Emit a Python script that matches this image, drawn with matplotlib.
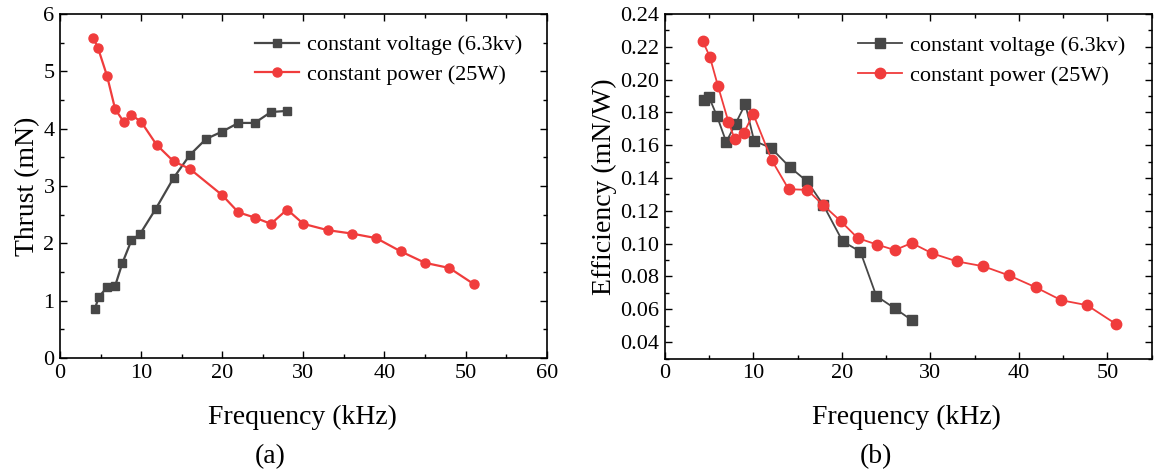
import matplotlib
matplotlib.use('Agg')
import matplotlib.pyplot as plt
from matplotlib.ticker import MultipleLocator

# thrust data (a)
freq_cv_a = [4.3, 4.8, 5.8, 6.8, 7.7, 8.8, 9.9, 11.8, 14, 16, 18, 20, 22, 24, 26, 28]
thrust_cv = [0.86, 1.07, 1.23, 1.26, 1.66, 2.05, 2.17, 2.60, 3.14, 3.54, 3.82, 3.95, 4.10, 4.10, 4.29, 4.31]
freq_cp_a = [4.1, 4.7, 5.8, 6.8, 7.9, 8.8, 10, 11.9, 14, 16, 20, 22, 24, 26, 28, 30, 33, 36, 39, 42, 45, 48, 51]
thrust_cp = [5.59, 5.40, 4.92, 4.34, 4.11, 4.24, 4.12, 3.72, 3.43, 3.30, 2.84, 2.54, 2.45, 2.34, 2.59,
             2.34, 2.23, 2.17, 2.09, 1.86, 1.66, 1.57, 1.29]

# efficiency data (b)
freq_cv_b = [4.4, 5.0, 5.9, 6.95, 8.0, 9.1, 10.1, 12, 14.1, 16.1, 17.9, 20.1, 22.1, 23.9, 26, 27.9]
eff_cv = [0.1877, 0.1894, 0.1778, 0.1620, 0.1731, 0.1851, 0.1626, 0.1584, 0.1468, 0.1379, 0.1237,
          0.1014, 0.0951, 0.0681, 0.0605, 0.0534]
freq_cp_b = [4.3, 5.1, 6.0, 7.2, 7.9, 8.9, 10, 12.1, 14, 16.1, 17.9, 19.9, 21.8, 24, 26, 27.9,
             30.2, 33, 36, 38.9, 41.9, 44.8, 47.7, 51]
eff_cp = [0.2234, 0.2139, 0.1964, 0.1742, 0.1638, 0.1672, 0.1790, 0.1508, 0.1332, 0.1328, 0.1235,
          0.1136, 0.1034, 0.0994, 0.0961, 0.1004, 0.0941, 0.0892, 0.0862, 0.0806, 0.0734, 0.0655,
          0.0625, 0.0509]

gray = '#474747'
red = '#f03c3c'

plt.rcParams['font.family'] = ['Liberation Serif', 'DejaVu Serif']

fig = plt.figure(figsize=(11.55, 4.72), dpi=100)
ax1 = fig.add_axes([60/1155, 1-358/472, (546.7-60)/1155, (358-14)/472])
ax2 = fig.add_axes([664.7/1155, 1-358.5/472, (1151.7-664.7)/1155, (358.5-14)/472])

ax1.plot(freq_cv_a, thrust_cv, 's-', color=gray, lw=1.6, ms=6, label='constant voltage (6.3kv)')
ax1.plot(freq_cp_a, thrust_cp, 'o-', color=red, lw=1.6, ms=6.5, label='constant power (25W)')
ax1.set_xlim(0, 60)
ax1.set_ylim(0, 6)
ax1.xaxis.set_major_locator(MultipleLocator(10))
ax1.xaxis.set_minor_locator(MultipleLocator(5))
ax1.yaxis.set_major_locator(MultipleLocator(1))
ax1.yaxis.set_minor_locator(MultipleLocator(0.5))
ax1.set_ylabel('Thrust (mN)', fontsize=20, labelpad=2)

ax2.plot(freq_cv_b, eff_cv, 's-', color=gray, lw=1.3, ms=7, label='constant voltage (6.3kv)')
ax2.plot(freq_cp_b, eff_cp, 'o-', color=red, lw=1.3, ms=7.5, label='constant power (25W)')
ax2.set_xlim(0, 55)
ax2.set_ylim(0.03, 0.24)
ax2.xaxis.set_major_locator(MultipleLocator(10))
ax2.xaxis.set_minor_locator(MultipleLocator(5))
ax2.yaxis.set_major_locator(MultipleLocator(0.02))
ax2.yaxis.set_minor_locator(MultipleLocator(0.01))
ax2.yaxis.set_major_formatter(plt.FormatStrFormatter('%.2f'))
ax2.set_ylabel('Efficiency (mN/W)', fontsize=20, labelpad=2)

for ax, anchor in ((ax1, (0.382, 0.965)), (ax2, (0.378, 0.963))):
    ax.tick_params(which='both', direction='in', top=True, right=True, labelsize=16)
    ax.tick_params(which='major', length=5, width=1, pad=4)
    ax.tick_params(which='minor', length=3, width=1)
    for sp in ax.spines.values():
        sp.set_linewidth(1.2)
    ax.legend(loc='upper left', bbox_to_anchor=anchor, frameon=False, fontsize=16,
              handlelength=2.0, handletextpad=0.36, labelspacing=0.4, borderaxespad=0)

fig.text(302/1155, 1-417/472, 'Frequency (kHz)', fontsize=20, ha='center', va='center')
fig.text(906/1155, 1-417/472, 'Frequency (kHz)', fontsize=20, ha='center', va='center')
fig.text(270/1155, 1-457/472, '(a)', fontsize=20, ha='center', va='center')
fig.text(876/1155, 1-457/472, '(b)', fontsize=20, ha='center', va='center')

fig.savefig('out.png', dpi=100)
